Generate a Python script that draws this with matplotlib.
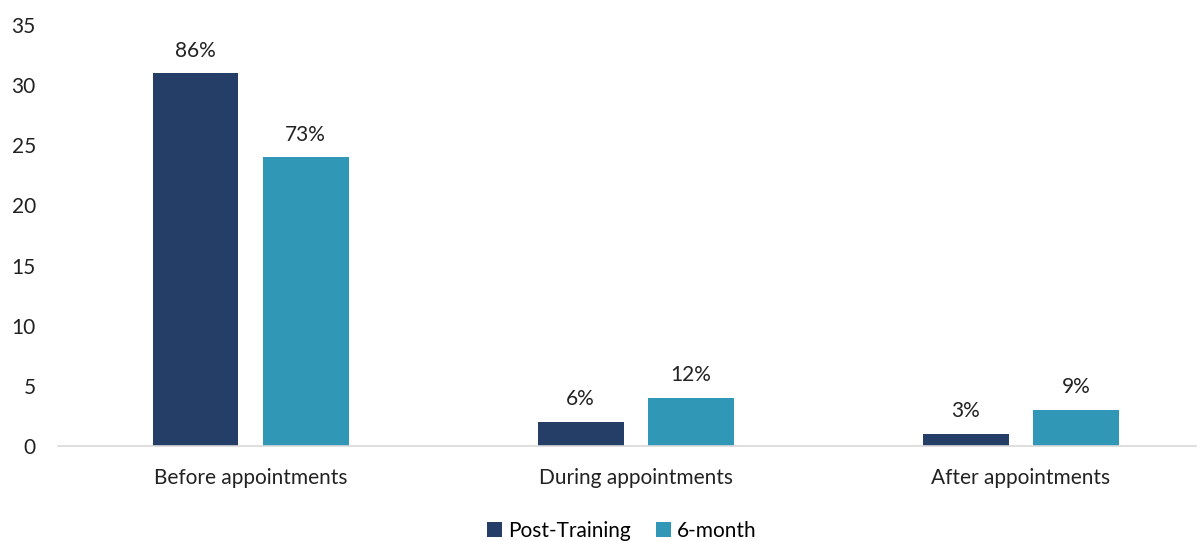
import matplotlib
matplotlib.use("Agg")
import matplotlib.pyplot as plt
import numpy as np

categories = ["Before appointments", "During appointments", "After appointments"]
post_training = [31, 2, 1]
six_month = [24, 4, 3]
post_labels = ["86%", "6%", "3%"]
six_labels = ["73%", "12%", "9%"]
series_names = ["Post-Training", "6-month"]
yticks = [0, 5, 10, 15, 20, 25, 30, 35]

plt.rcParams['font.family'] = ['Lato', 'DejaVu Sans']

W, H = 1202, 541
fig = plt.figure(figsize=(W/100, H/100), dpi=100)
ax = fig.add_axes([58/W, 1-446/H, (1196-58)/W, (446-25)/H])

x = np.arange(len(categories))
w = 0.223
off = 0.143
c1, c2 = "#253e68", "#3097b6"
b1 = ax.bar(x - off, post_training, w, color=c1, label=series_names[0])
b2 = ax.bar(x + off, six_month, w, color=c2, label=series_names[1])

for bars, labs in ((b1, post_labels), (b2, six_labels)):
    for rect, lab in zip(bars, labs):
        ax.annotate(lab, (rect.get_x()+rect.get_width()/2, rect.get_height()),
                    xytext=(0, 9), textcoords="offset points", ha="center", va="bottom",
                    fontsize=15, color="#222222")

ax.set_xlim(-0.5, (1196-251)/385)
ax.set_ylim(0, 35)
ax.set_yticks(yticks)
ax.set_xticks(x)
ax.set_xticklabels(categories)
ax.tick_params(axis="both", length=0, labelsize=15, colors="#222222")
ax.tick_params(axis="x", pad=16)
ax.tick_params(axis="y", pad=16)
for s in ["top", "right", "left"]:
    ax.spines[s].set_visible(False)
ax.spines["bottom"].set_color("#d9d9d9")
ax.spines["bottom"].set_linewidth(1.2)

fig.legend(handles=[b1, b2], labels=series_names, loc="center", bbox_to_anchor=(622/W, 1-531/H),
           ncol=2, frameon=False, fontsize=15, handlelength=0.7, handleheight=0.7,
           handletextpad=0.3, columnspacing=1.2)

fig.savefig("out.png", dpi=100)
